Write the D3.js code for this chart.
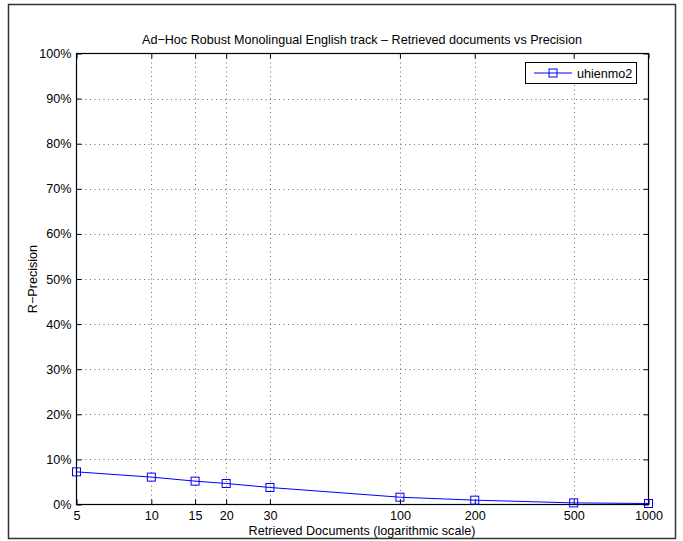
<!DOCTYPE html>
<html><head><meta charset="utf-8">
<script src="https://cdn.jsdelivr.net/npm/d3@7"></script>
<style>body{margin:0;background:#fff;} text{font-family:"Liberation Sans",Arial,sans-serif;}</style>
</head><body>
<svg id="c" width="683" height="541"></svg>
<script>
const docs = [5, 10, 15, 20, 30, 100, 200, 500, 1000];
const precision = [0.0724, 0.0607, 0.0518, 0.0466, 0.0377, 0.0162, 0.0096, 0.0036, 0.0022];
const xTicks = [5, 10, 15, 20, 30, 100, 200, 500, 1000];
const yTicks = [0, 0.1, 0.2, 0.3, 0.4, 0.5, 0.6, 0.7, 0.8, 0.9, 1.0];
const seriesName = "uhienmo2";

const FS = 12.6;
const svg = d3.select("#c");
const L = 76.5, R = 648.5, T = 53.5, B = 504.5;
const x = d3.scaleLog().domain([5, 1000]).range([L, R]);
const y = d3.scaleLinear().domain([0, 1]).range([B, T]);

// outer frame
svg.append("rect").attr("x", 8.5).attr("y", 4.5).attr("width", 667).attr("height", 534)
  .attr("fill", "none").attr("stroke", "#333").attr("stroke-width", 1.5);

// grid
const g = svg.append("g");
g.selectAll(".vg").data(xTicks.filter(d => d !== 5 && d !== 1000)).enter().append("line")
  .attr("x1", d => Math.round(x(d)) + 0.5).attr("x2", d => Math.round(x(d)) + 0.5)
  .attr("y1", T).attr("y2", B).attr("stroke", "#444").attr("stroke-width", 0.8).attr("stroke-dasharray", "1,3.5");
g.selectAll(".hg").data(yTicks.filter(d => d > 0 && d < 1)).enter().append("line")
  .attr("x1", L).attr("x2", R)
  .attr("y1", d => Math.round(y(d)) + 0.5).attr("y2", d => Math.round(y(d)) + 0.5)
  .attr("stroke", "#444").attr("stroke-width", 0.8).attr("stroke-dasharray", "1,3.5");

// axes
const fmt = d3.format(".0%");
const xAxis = d3.axisBottom(x).tickValues(xTicks).tickFormat(d3.format("d")).tickSizeInner(-5).tickSizeOuter(0).tickPadding(7);
const yAxis = d3.axisLeft(y).tickValues(yTicks).tickFormat(fmt).tickSizeInner(-5).tickSizeOuter(0).tickPadding(5);
const xa = svg.append("g").attr("transform", `translate(0,${B})`).call(xAxis);
const ya = svg.append("g").attr("transform", `translate(${L},0)`).call(yAxis);
const xt = svg.append("g").attr("transform", `translate(0,${T})`).call(d3.axisTop(x).tickValues(xTicks).tickFormat("").tickSizeInner(-5).tickSizeOuter(0));
const yr = svg.append("g").attr("transform", `translate(${R},0)`).call(d3.axisRight(y).tickValues(yTicks).tickFormat("").tickSizeInner(-5).tickSizeOuter(0));
[xa, ya, xt, yr].forEach(a => {
  a.select(".domain").remove();
  a.selectAll("line").attr("stroke", "#000");
  a.selectAll("text").attr("font-size", FS).attr("fill", "#000").attr("font-family", "Liberation Sans, Arial, sans-serif");
});
svg.append("rect").attr("x", L).attr("y", T).attr("width", R - L).attr("height", B - T)
  .attr("fill", "none").attr("stroke", "#000").attr("stroke-width", 1.2);

// line + markers
const line = d3.line().x((d, i) => x(docs[i])).y(d => y(d));
svg.append("path").datum(precision).attr("d", line).attr("fill", "none").attr("stroke", "#0000ff").attr("stroke-width", 1);
svg.selectAll(".m").data(precision).enter().append("rect")
  .attr("x", (d, i) => x(docs[i]) - 4).attr("y", d => y(d) - 4).attr("width", 8).attr("height", 8)
  .attr("fill", "none").attr("stroke", "#0000ff").attr("stroke-width", 1);

// title & labels
svg.append("text").attr("x", 362).attr("y", 44).attr("text-anchor", "middle").attr("font-size", FS)
  .text("Ad\u2212Hoc Robust Monolingual English track \u2013 Retrieved documents vs Precision");
svg.append("text").attr("x", 362).attr("y", 535).attr("text-anchor", "middle").attr("font-size", FS)
  .text("Retrieved Documents (logarithmic scale)");
svg.append("text").attr("transform", "translate(37,279) rotate(-90)").attr("text-anchor", "middle").attr("font-size", FS)
  .text("R\u2212Precision");

// legend
const lg = svg.append("g");
lg.append("rect").attr("x", 525.5).attr("y", 62.5).attr("width", 111).attr("height", 21)
  .attr("fill", "#fff").attr("stroke", "#000").attr("stroke-width", 1);
lg.append("line").attr("x1", 534).attr("x2", 572).attr("y1", 73).attr("y2", 73).attr("stroke", "#0000ff");
lg.append("rect").attr("x", 549).attr("y", 69).attr("width", 8).attr("height", 8).attr("fill", "none").attr("stroke", "#0000ff");
lg.append("text").attr("x", 577).attr("y", 77.5).attr("font-size", FS).text(seriesName);
</script>
</body></html>
